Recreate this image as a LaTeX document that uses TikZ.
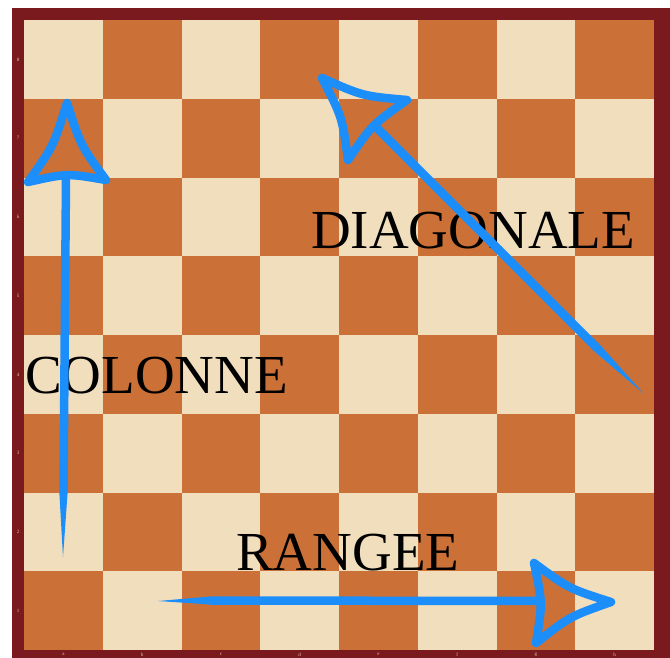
\documentclass[tikz,border=0pt]{standalone}
\usepackage{fontspec}
\setmainfont{Liberation Serif}
\definecolor{boardframe}{RGB}{122,26,30}
\definecolor{lightsq}{RGB}{241,222,188}
\definecolor{darksq}{RGB}{203,112,54}
\definecolor{arrowblue}{RGB}{28,142,250}
\definecolor{tinylabel}{RGB}{225,200,160}
\tikzset{
  headstroke/.style={draw=arrowblue, line width=8.5pt, line join=round, line cap=round},
  shaftstroke/.style={draw=arrowblue, line width=8.5pt},
  taper/.style={fill=arrowblue},
  bigword/.style={inner sep=0pt, anchor=base west, text=black, font=\fontsize{55}{60}\selectfont},
  coordlabel/.style={inner sep=0pt, text=tinylabel, font=\fontsize{5}{6}\selectfont}
}
\begin{document}
\begin{tikzpicture}[x=1pt,y=-1pt]
\useasboundingbox (0,0) rectangle (670,657);
\fill[white] (0,0) rectangle (670,657);
% frame
\fill[boardframe] (12,8) rectangle (672,660);
% board
\fill[darksq] (24,20) rectangle (654,650);
\foreach \i in {0,...,7} {
  \foreach \j in {0,...,7} {
    \pgfmathtruncatemacro\sqpar{mod(\i+\j,2)}
    \ifnum\sqpar=0
      \fill[lightsq] ({24+78.75*\i},{20+78.75*\j}) rectangle ++(78.75,78.75);
    \fi
  }
}
% rank labels on frame
\foreach \r in {1,...,8} {
  \node[coordlabel, name=rank\r] at (18,{20+78.75*(8-\r)+39.4}) {\r};
}
\foreach \f [count=\k from 0] in {a,b,c,d,e,f,g,h} {
  \node[coordlabel, name=file\f] at ({24+78.75*\k+39.4},654.5) {\f};
}
% words
\node[bigword, name=diag] at (311,248) {DIAGONALE};
\node[bigword, name=colonne] at (25,393) {COLONNE};
\node[bigword, name=rangee] at (236,570) {RANGEE};
% column arrow
\fill[taper] (59.2,490) -- (63,557) -- (67.8,490) -- cycle;
\draw[shaftstroke] (63.5,490) -- (66,178);
\draw[headstroke] (67,103) .. controls (53.4,146.3) .. (28,182)
   .. controls (67,173.2) .. (106,180)
   .. controls (80.7,145.6) .. (67,103) -- cycle;
% diagonal arrow
\fill[taper] (598.2,342.8) -- (643,393) -- (591.9,349.2) -- cycle;
\draw[shaftstroke] (595,346) -- (375,126);
\draw[headstroke] (322,78) .. controls (362.9,96.1) .. (407,100)
   .. controls (372,124.8) .. (348,160)
   .. controls (342.2,117.1) .. (322,78) -- cycle;
% rangee arrow
\fill[taper] (210,596.5) -- (158,601) -- (210,604.5) -- cycle;
\draw[shaftstroke] (210,600.5) -- (543,601);
\draw[headstroke] (611,602) .. controls (568.8,588.6) .. (534,563)
   .. controls (542.6,602.9) .. (536,643)
   .. controls (569.5,616.6) .. (611,602) -- cycle;
\end{tikzpicture}
\end{document}
